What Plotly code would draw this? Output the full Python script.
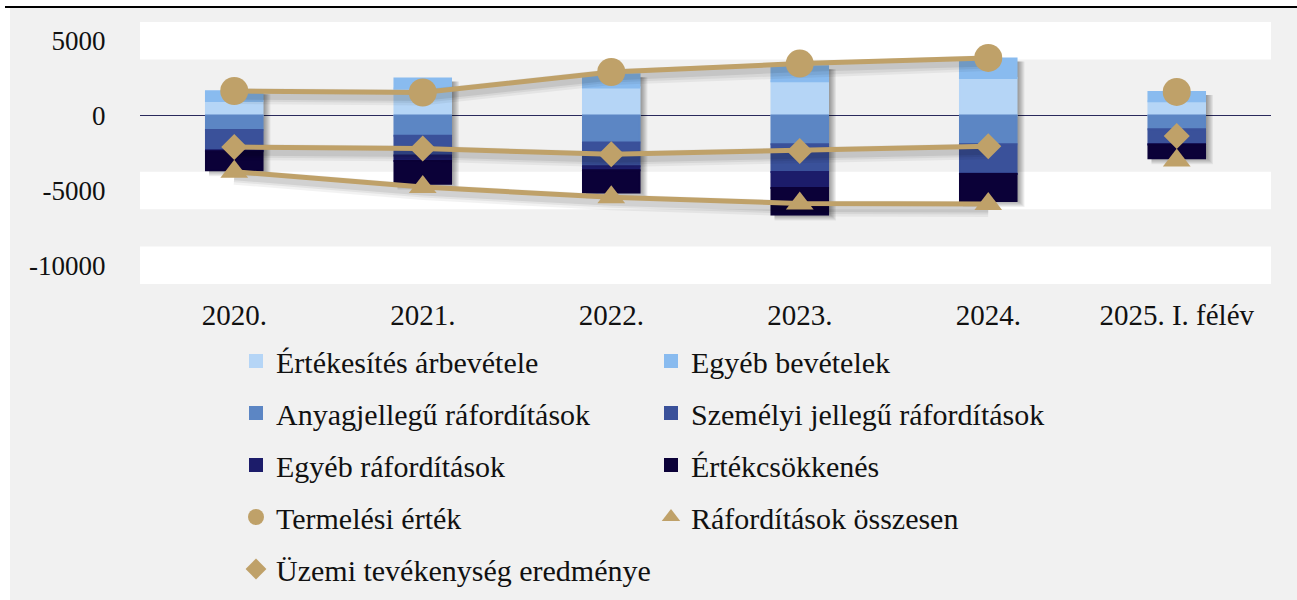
import plotly.graph_objects as go

# Categories (years) and stacked components, in million HUF
categories = ["2020.", "2021.", "2022.", "2023.", "2024.", "2025. I. félév"]

arbevetel = [970, 1800, 1870, 2290, 2510, 955]
egyeb_bevetelek = [650, 670, 890, 1000, 1300, 620]
anyagjellegu = [-960, -1340, -1800, -1920, -1920, -915]
szemelyi = [-1350, -1320, -1580, -1850, -1960, -1000]
egyeb_raf = [-70, -380, -270, -1070, -30, -20]
ertekcsokkenes = [-1270, -1510, -1490, -1760, -1800, -915]

termelesi_ertek = [1640, 1540, 2910, 3470, 3850, 1580]
raf_osszesen = [-3750, -4770, -5460, -5870, -5900, -3000]
uzemi_eredmeny = [-2100, -2200, -2590, -2360, -2050, -1360]

y_ticks = [5000, 0, -5000, -10000]
band_centers = [5000, -5000, -10000]

GOLD = "#bfa169"
FONT = "Liberation Serif"
BG = "#f1f1f1"
W, H = 1297, 600
plot_left, plot_right = 140, 1271
plot_top, plot_bottom = 22, 284
plot_w = plot_right - plot_left
plot_h = plot_bottom - plot_top
Y_MIN, Y_MAX = -11250, 6250
BAR_WIDTH = 0.3

units_per_px = (Y_MAX - Y_MIN) / plot_h
cat_per_px = len(categories) / plot_w

fig = go.Figure()

bar_series = [
    ("Értékesítés árbevétele", arbevetel, "#b5d5f6", "legend"),
    ("Egyéb bevételek", egyeb_bevetelek, "#89bbef", "legend2"),
    ("Anyagjellegű ráfordítások", anyagjellegu, "#5c86c4", "legend"),
    ("Személyi jellegű ráfordítások", szemelyi, "#3a519a", "legend2"),
    ("Egyéb ráfordítások", egyeb_raf, "#1c1c6a", "legend"),
    ("Értékcsökkenés", ertekcsokkenes, "#0b0138", "legend2"),
]
for name, vals, color, leg in bar_series:
    fig.add_trace(go.Bar(
        x=categories, y=vals, name=name, marker_color=color,
        marker_line=dict(width=2, color=color), legend=leg, legendgroup=name,
    ))

line_series = [
    ("Termelési érték", termelesi_ertek, "circle", 28, "legend"),
    ("Ráfordítások összesen", raf_osszesen, "triangle-up", 24, "legend2"),
    ("Üzemi tevékenység eredménye", uzemi_eredmeny, "diamond", 20, "legend"),
]

# soft drop shadow under the connecting lines
for name, vals, symbol, size, leg in line_series:
    for width, alpha in [(16, 0.05), (11, 0.06), (7, 0.08)]:
        fig.add_trace(go.Scatter(
            x=categories[:5], y=[v - 5 * units_per_px for v in vals[:5]],
            mode="lines", line=dict(color=f"rgba(0,0,0,{alpha})", width=width),
            showlegend=False, hoverinfo="skip",
        ))

for name, vals, symbol, size, leg in line_series:
    # connected yearly values
    fig.add_trace(go.Scatter(
        x=categories[:5], y=vals[:5], mode="lines+markers", name=name,
        line=dict(color=GOLD, width=5),
        marker=dict(symbol=symbol, size=size, color=GOLD),
        showlegend=False, legendgroup=name, legend=leg,
    ))
    # half-year value stands alone
    fig.add_trace(go.Scatter(
        x=categories[5:], y=vals[5:], mode="markers", name=name,
        marker=dict(symbol=symbol, size=size, color=GOLD),
        legendgroup=name, legend=leg,
    ))

shapes = []
for c in band_centers:
    shapes.append(dict(type="rect", xref="paper", yref="y", x0=0, x1=1,
                       y0=c - 1250, y1=c + 1250, fillcolor="white",
                       line_width=0, layer="below"))

# blurred shadow to the right of each bar stack
pos_tot = [a + b for a, b in zip(arbevetel, egyeb_bevetelek)]
neg_tot = [a + b + c + d for a, b, c, d in zip(anyagjellegu, szemelyi, egyeb_raf, ertekcsokkenes)]
for i in range(len(categories)):
    for k in range(1, 8):
        shapes.append(dict(
            type="rect", xref="x", yref="y",
            x0=i - BAR_WIDTH / 2 + 3 * cat_per_px,
            x1=i + BAR_WIDTH / 2 + (1 + k) * cat_per_px,
            y0=neg_tot[i] - (k - 1) * units_per_px,
            y1=pos_tot[i] - 3 * units_per_px,
            fillcolor="rgba(0,0,0,0.06)", line_width=0, layer="between"))

def px_x(px):
    return (px - plot_left) / plot_w

def px_y(px):
    return (plot_bottom - px) / plot_h

# white page edge and black rule above the chart frame
shapes.append(dict(type="rect", xref="paper", yref="paper", x0=px_x(-20), x1=px_x(W + 20),
                   y0=px_y(7), y1=px_y(-20), fillcolor="white", line_width=0, layer="below"))
shapes.append(dict(type="rect", xref="paper", yref="paper", x0=px_x(-20), x1=px_x(10),
                   y0=px_y(H + 20), y1=px_y(-20), fillcolor="white", line_width=0, layer="below"))
shapes.append(dict(type="line", xref="paper", yref="paper", x0=px_x(5), x1=px_x(W + 20),
                   y0=px_y(7), y1=px_y(7), line=dict(color="black", width=2)))

legend_common = dict(
    orientation="v", yanchor="top", xanchor="left",
    xref="container", yref="container",
    font=dict(family=FONT, size=30, color="#111111"),
    bgcolor="rgba(0,0,0,0)", traceorder="grouped", tracegroupgap=10,
    itemsizing="trace",
)

fig.update_layout(
    width=W, height=H,
    margin=dict(l=plot_left, r=W - plot_right, t=plot_top, b=H - plot_bottom,
                autoexpand=False),
    paper_bgcolor=BG, plot_bgcolor=BG,
    barmode="relative", bargap=1 - BAR_WIDTH,
    font=dict(family=FONT, size=28, color="#111111"),
    shapes=shapes,
    legend=dict(x=236 / W, y=1 - 335 / H, **legend_common),
    legend2=dict(x=651 / W, y=1 - 335 / H, **legend_common),
    xaxis=dict(showgrid=False, ticks="outside", ticklen=5, automargin=False,
               tickcolor="rgba(0,0,0,0)", tickfont=dict(size=29)),
    yaxis=dict(range=[Y_MIN, Y_MAX], tickvals=y_ticks, automargin=False,
               ticktext=[str(v) for v in y_ticks], showgrid=False,
               zeroline=True, zerolinecolor="#2a2a5c", zerolinewidth=1,
               ticks="outside", ticklen=28, tickcolor="rgba(0,0,0,0)",
               tickfont=dict(size=27)),
)

fig.write_html("out.html")
